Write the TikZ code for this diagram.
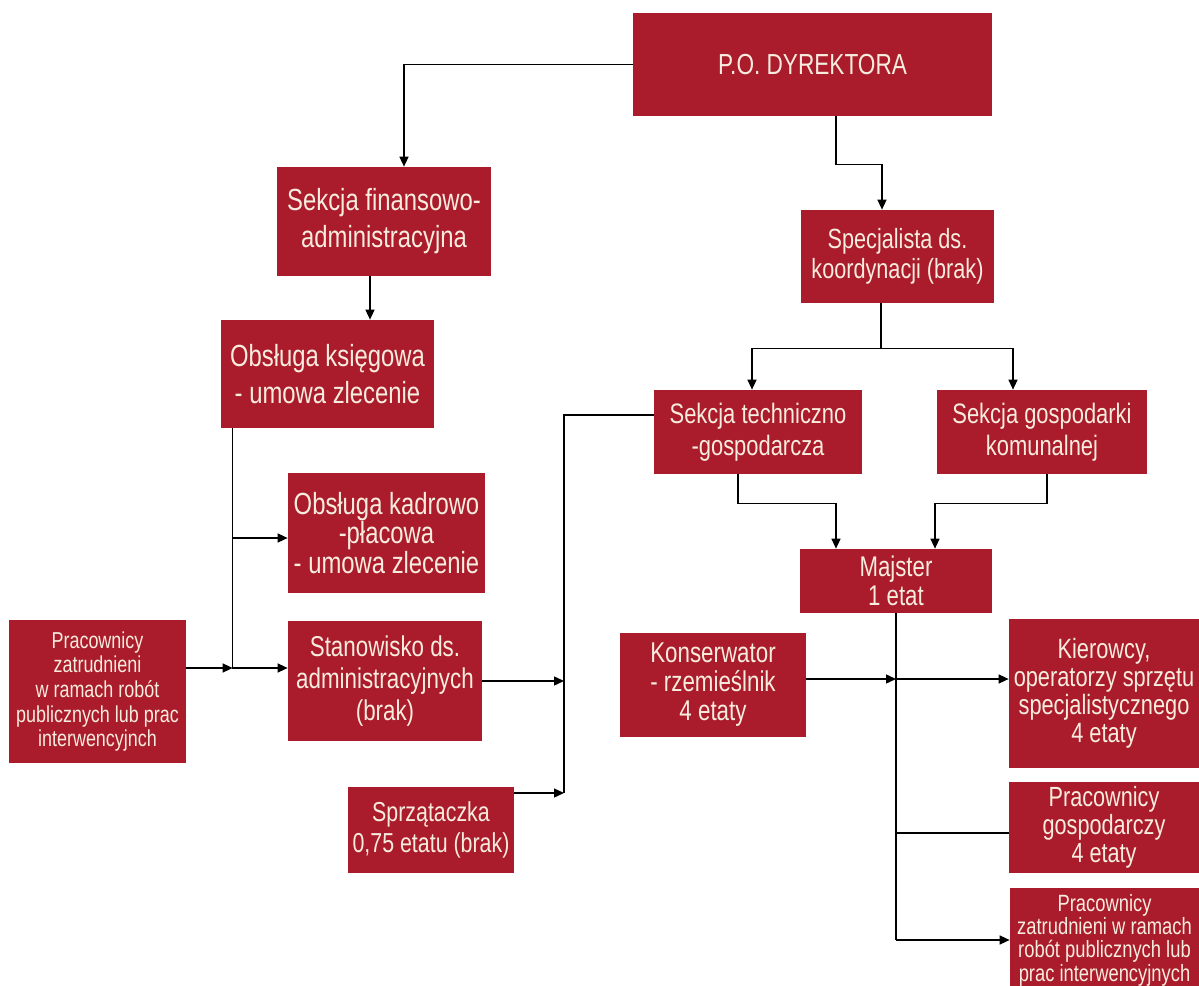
\documentclass[tikz,border=0pt]{standalone}
\usepackage{fontspec}
\setmainfont[FakeStretch=0.78]{Liberation Sans}
\usetikzlibrary{arrows.meta}
\definecolor{boxred}{RGB}{170,27,43}
\definecolor{boxtext}{RGB}{247,236,222}

\begin{document}
\begin{tikzpicture}[
  box/.style={fill=boxred, text=boxtext, align=center, inner sep=0pt},
  link/.style={black, line width=0.8pt},
  >={Triangle[length=2mm,width=1.8mm]}]
\useasboundingbox (0,0) rectangle (23.98,-19.72);
% left side
 \node[box,minimum width=7.18cm,minimum height=2.06cm,font=\fontsize{16.5}{18}\selectfont] (dyr) at (16.25,-1.29) {P.O. DYREKTORA};
 \node[box,minimum width=4.28cm,minimum height=2.18cm,font=\fontsize{17.4}{21}\selectfont] (fin) at (7.68,-4.43) {Sekcja finansowo-\\administracyjna};
 \node[box,minimum width=4.26cm,minimum height=2.16cm,font=\fontsize{17.4}{21}\selectfont] (ksieg) at (6.55,-7.48) {Obsługa księgowa\\- umowa zlecenie};
 \node[box,minimum width=3.94cm,minimum height=2.4cm,font=\fontsize{17.4}{17}\selectfont] (kadr) at (7.73,-10.66) {Obsługa kadrowo\\-płacowa\\- umowa zlecenie};
 \node[box,minimum width=3.88cm,minimum height=2.4cm,font=\fontsize{16.3}{18}\selectfont] (stan) at (7.70,-13.62) {Stanowisko ds.\\administracyjnych\\(brak)};
 \node[box,minimum width=3.54cm,minimum height=2.86cm,font=\fontsize{13.1}{14}\selectfont] (pracl) at (1.95,-13.83) {Pracownicy\\zatrudnieni\\w ramach robót\\publicznych lub prac\\interwencyjnch};
 \node[box,minimum width=3.32cm,minimum height=1.72cm,font=\fontsize{15.6}{18}\selectfont] (sprz) at (8.62,-16.6) {Sprzątaczka\\0,75 etatu (brak)};
% right side
 \node[box,minimum width=3.86cm,minimum height=1.86cm,font=\fontsize{15.8}{17}\selectfont] (spec) at (17.95,-5.13) {Specjalista ds.\\koordynacji (brak)};
 \node[box,minimum width=4.16cm,minimum height=1.68cm,font=\fontsize{16}{18}\selectfont] (tech) at (15.16,-8.64) {Sekcja techniczno\\-gospodarcza};
 \node[box,minimum width=4.2cm,minimum height=1.68cm,font=\fontsize{16}{18}\selectfont] (kom) at (20.84,-8.64) {Sekcja gospodarki\\komunalnej};
 \node[box,minimum width=3.84cm,minimum height=1.28cm,font=\fontsize{16.2}{16.5}\selectfont] (maj) at (17.92,-11.62) {Majster\\1 etat};
 \node[box,minimum width=3.72cm,minimum height=2.08cm,font=\fontsize{16.3}{16.5}\selectfont] (kons) at (14.26,-13.7) {Konserwator\\- rzemieślnik\\4 etaty};
 \node[box,minimum width=3.8cm,minimum height=2.98cm,font=\fontsize{15.9}{16}\selectfont] (kier) at (22.08,-13.87) {Kierowcy,\\operatorzy sprzętu\\specjalistycznego\\4 etaty};
 \node[box,minimum width=3.8cm,minimum height=1.82cm,font=\fontsize{15.8}{16}\selectfont] (gosp) at (22.08,-16.55) {Pracownicy\\gospodarczy\\4 etaty};
 \node[box,minimum width=3.78cm,minimum height=2.1cm,font=\fontsize{13.4}{13.3}\selectfont] (pracr) at (22.09,-18.8) {Pracownicy\\zatrudnieni w ramach\\robót publicznych lub\\prac interwencyjnych};
% connectors from the top
 \draw[link,->] (dyr.west) -| ([xshift=.4cm]fin.north);
 \draw[link,->] ([xshift=.47cm]dyr.south) -- ++(0,-.96) -| ([xshift=-.31cm]spec.north);
 \coordinate (sp) at ([xshift=-.33cm]spec.south);
 \draw[link] (sp) -- ++(0,-.9) coordinate (spj);
 \draw[link,->] (spj) -| ([xshift=-.12cm]tech.north);
 \draw[link,->] (spj) -| ([xshift=-.58cm]kom.north);
 \draw[link,->] ([xshift=-.28cm]fin.south) -- ([xshift=-.28cm]fin.south |- ksieg.north);
% left branch
 \coordinate (ks) at ([xshift=.24cm]ksieg.south west);
 \coordinate (kadrin) at ([yshift=-.1cm]kadr.west);
 \coordinate (stanin) at ([yshift=.26cm]stan.west);
 \draw[link,->] (ks) |- (stanin);
 \draw[link,->] (ks |- kadrin) -- (kadrin);
 \draw[link,->] (pracl.east |- stanin) -- (ks |- stanin);
% line from Sekcja techniczno
 \coordinate (bus) at (11.28,-8.3);
 \coordinate (sprzout) at ([yshift=.74cm]sprz.east);
 \draw[link] ([yshift=.34cm]tech.west) -- (bus) -- (bus |- sprzout);
 \draw[link,->] (stan.east) -- (bus |- stan.east);
 \draw[link,->] (sprzout) -- (bus |- sprzout);
% Majster
 \draw[link,->] ([xshift=-.4cm]tech.south) -- ++(0,-.58) -| ([xshift=-1.2cm]maj.north);
 \draw[link,->] ([xshift=.1cm]kom.south) -- ++(0,-.58) -| ([xshift=.78cm]maj.north);
 \coordinate (kierin) at ([yshift=.29cm]kier.west);
 \coordinate (gospin) at ([yshift=-.11cm]gosp.west);
 \coordinate (pracrin) at ([yshift=.0cm]pracr.west);
 \draw[link] (maj.south) -- (maj.south |- pracrin);
 \draw[link,->] (kons.east |- kierin) -- (maj.south |- kierin);
 \draw[link,->] (maj.south |- kierin) -- (kierin);
 \draw[link] (maj.south |- gospin) -- (gospin);
 \draw[link,->] (maj.south |- pracrin) -- (pracrin);
\end{tikzpicture}
\end{document}
